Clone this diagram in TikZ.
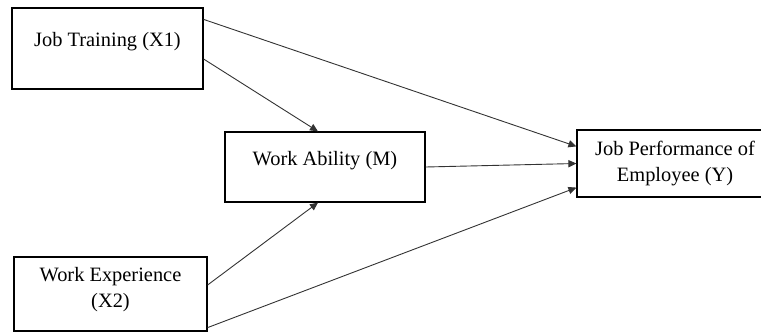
\documentclass[tikz,border=0pt]{standalone}
\usepackage{fontspec}
\setmainfont{Liberation Serif}
\usetikzlibrary{arrows.meta}
\begin{document}
\begin{tikzpicture}[
   x=0.5pt,y=-0.5pt,
   varbox/.style={draw,line width=0.6pt,inner sep=2pt,align=center,
     font=\fontsize{10.2}{13}\selectfont},
   varedge/.style={-{Triangle[length=4pt,width=3.6pt]},line width=0.45pt,
     draw=black!80}
 ]
 \clip (0,0) rectangle (761,332);
 \useasboundingbox (0,0) rectangle (761,332);
 % Boxes: center, then width and height in px halves.
 \node[varbox,minimum width=95.5pt,minimum height=40.5pt,text depth=9pt]
   (x1) at (107.5,48.5) {Job Training (X1)};
 \node[varbox,minimum width=100pt,minimum height=35pt,text depth=9pt]
   (m) at (325,167) {Work Ability (M)};
 \node[varbox,minimum width=98pt,minimum height=33.5pt]
   (y) at (675,163.5) {Job Performance of\\Employee (Y)};
 \node[varbox,minimum width=96.5pt,minimum height=37pt,text depth=6.6pt]
   (x2) at (110.5,294) {Work Experience\\(X2)};
 % Paths, direct and through the mediator.
 \draw[varedge] ([yshift=-6pt]x1.north east) -- ([yshift=-8.5pt]y.north west);
 \draw[varedge] ([yshift=-5.25pt]x1.east) -- ([xshift=-3.5pt]m.north);
 \draw[varedge] (m.east) -- (y.west);
 \draw[varedge] ([yshift=4.5pt]x2.east) -- ([xshift=-3.5pt]m.south);
 \draw[varedge] ([yshift=2pt]x2.south east) -- ([yshift=5pt]y.south west);
\end{tikzpicture}
\end{document}
